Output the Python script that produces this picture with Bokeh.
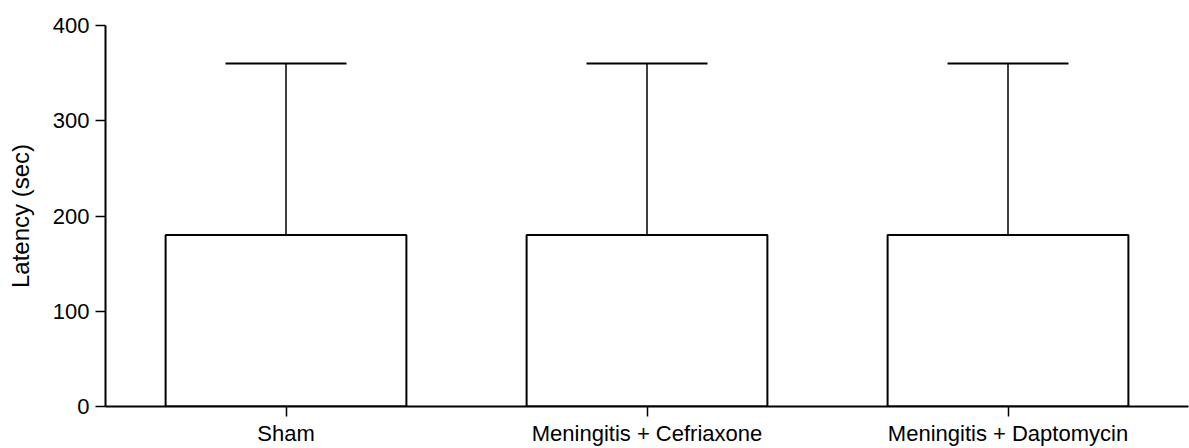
from bokeh.plotting import figure
from bokeh.models import Range1d, FactorRange, FixedTicker, Whisker, TeeHead, ColumnDataSource
from bokeh.embed import file_html
from bokeh.resources import INLINE

groups = ["Sham", "Meningitis + Cefriaxone", "Meningitis + Daptomycin"]
means = [180, 180, 180]
errors = [180, 180, 180]
y_ticks = [0, 100, 200, 300, 400]
y_label = "Latency (sec)"

src = ColumnDataSource(dict(
    x=groups, top=means, upper=[m + e for m, e in zip(means, errors)]
))

FONT = "Liberation Sans"

p = figure(width=1189, height=448, output_backend="svg", toolbar_location=None,
           x_range=FactorRange(factors=groups, range_padding=0),
           y_range=Range1d(0, 400),
           min_border_left=105, min_border_right=1, min_border_top=25, min_border_bottom=41)
p.outline_line_color = None
p.xgrid.grid_line_color = None
p.ygrid.grid_line_color = None
p.background_fill_color = "white"
p.border_fill_color = "white"

whisk = Whisker(source=src, base="x", upper="upper", lower="top", dimension="height",
                line_color="black", line_width=1.5,
                upper_head=TeeHead(size=121, line_color="black", line_width=2),
                lower_head=None)
p.add_layout(whisk)

p.vbar(x="x", top="top", width=0.667, source=src, fill_color="white",
       line_color="black", line_width=2)

for ax in (p.xaxis[0], p.yaxis[0]):
    ax.axis_line_width = 2
    ax.axis_line_color = "black"
    ax.major_tick_line_width = 1.5
    ax.major_tick_line_color = "black"
    ax.major_tick_out = 10
    ax.major_tick_in = 0
    ax.minor_tick_line_color = None
    ax.major_label_text_font = FONT
    ax.major_label_text_font_size = "22px"
    ax.major_label_text_color = "black"

p.yaxis[0].ticker = FixedTicker(ticks=y_ticks)
p.yaxis[0].major_label_standoff = 6
p.yaxis[0].axis_label = y_label
p.yaxis[0].axis_label_text_font = FONT
p.yaxis[0].axis_label_text_font_size = "24px"
p.yaxis[0].axis_label_text_font_style = "normal"
p.yaxis[0].axis_label_text_color = "black"
p.yaxis[0].axis_label_standoff = 16
p.xaxis[0].major_label_standoff = 4

open("out.html", "w").write(file_html(p, INLINE))
